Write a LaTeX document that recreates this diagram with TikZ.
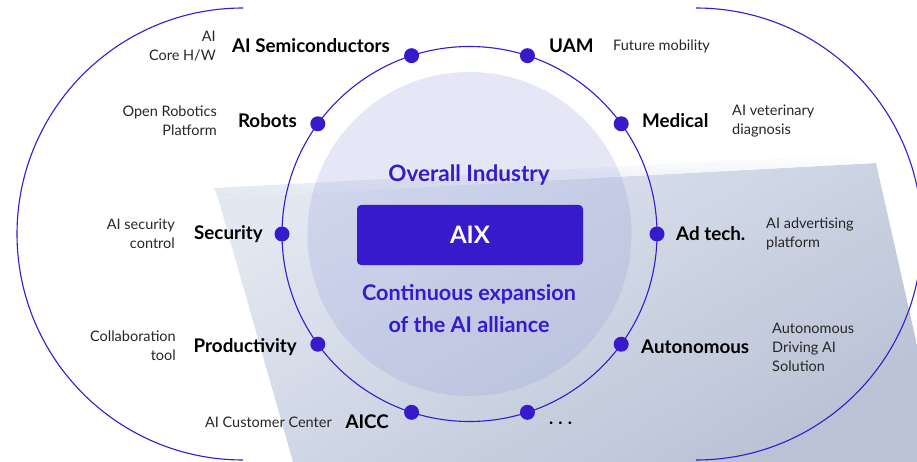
\documentclass[tikz,border=0pt]{standalone}
\usepackage{fontspec}
\setmainfont{Lato}
\definecolor{indigo}{RGB}{54,26,204}
\definecolor{bgA}{RGB}{226,231,241}
\definecolor{bgB}{RGB}{186,195,214}
\definecolor{innerc}{RGB}{150,160,222}
\begin{document}
\begin{tikzpicture}[x=1pt,y=-1pt,
  dot/.style={circle,fill=indigo,inner sep=0pt,minimum size=15pt},
  lbl/.style={font=\bfseries\fontsize{18.8}{22}\selectfont,text=black,inner sep=0pt},
  desc/.style={font=\fontsize{14.5}{19}\selectfont,text=black!85,inner sep=0pt,align=#1},
  ring/.style={draw=indigo,line width=1.1pt}]
\useasboundingbox (0,0) rectangle (917,462);
% background screen
\shade[top color=bgA,bottom color=bgB,shading angle=30]
  (218,198) -- (876,163) -- (917,345) -- (917,462) -- (293,462) -- cycle;
\shade[top color=white,bottom color=bgA,shading angle=-3]
  (214,188) -- (874,153) -- (876,163) -- (218,198) -- cycle;
% inner shaded circle
\coordinate (c) at (469.5,234);
\fill[innerc,opacity=0.25] (c) circle[radius=162pt];
% outer arcs
\begin{scope}
\clip (0,0) rectangle (243,462);
\draw[ring] (243,234) circle[radius=226pt];
\end{scope}
\begin{scope}
\clip (696,0) rectangle (917,462);
\draw[ring] (696,234) circle[radius=226pt];
\end{scope}
% middle ring
\draw[ring] (c) circle[radius=187.5pt];
% dots
\path (c) ++(0:187.5pt) node[dot] (adtech) {};
\path (c) ++(36:187.5pt) node[dot] (medical) {};
\path (c) ++(72:187.5pt) node[dot] (uam) {};
\path (c) ++(108:187.5pt) node[dot] (semi) {};
\path (c) ++(144:187.5pt) node[dot] (robots) {};
\path (c) ++(180:187.5pt) node[dot] (security) {};
\path (c) ++(216:187.5pt) node[dot] (prod) {};
\path (c) ++(252:187.5pt) node[dot] (aicc) {};
\path (c) ++(288:187.5pt) node[dot] (more) {};
\path (c) ++(324:187.5pt) node[dot] (auto) {};
% centre
\node[lbl,text=indigo,font=\bfseries\fontsize{22.5}{26}\selectfont] (overall) at (469,175) {Overall Industry};
\node[fill=indigo,rounded corners=4pt,minimum width=226pt,minimum height=60pt,inner sep=0pt,
  text=white,font=\bfseries\fontsize{24}{28}\selectfont] (aix) at (470,235) {AIX};
\node[text=indigo,font=\bfseries\fontsize{21.6}{32}\selectfont,align=center,inner sep=0pt] (cont) at (469,309)
  {Continuous expansion\\of the AI alliance};
% labels left
\node[lbl,anchor=east] (semiL) at (390,46) {AI Semiconductors};
\node[desc=right,anchor=east] (semiD) at (216,46) {AI\\Core H/W};
\node[lbl,anchor=east] (robotsL) at (297,121) {Robots};
\node[desc=right,anchor=east] (robotsD) at (217,121) {Open Robotics\\Platform};
\node[lbl,anchor=east] (securityL) at (263,234) {Security};
\node[desc=right,anchor=east] (securityD) at (175,234) {AI security\\control};
\node[lbl,anchor=east] (prodL) at (297,347) {Productivity};
\node[desc=right,anchor=east] (prodD) at (176,346) {Collaboration\\tool};
\node[lbl,anchor=east] (aiccL) at (389,422) {AICC};
\node[desc=right,anchor=east] (aiccD) at (332,422) {AI Customer Center};
% labels right
\node[lbl,anchor=west] (uamL) at (549,46) {UAM};
\node[desc=left,anchor=west] (uamD) at (613,46) {Future mobility};
\node[lbl,anchor=west] (medicalL) at (642,121) {Medical};
\node[desc=left,anchor=west] (medicalD) at (732,121) {AI veterinary\\diagnosis};
\node[lbl,anchor=west] (adtechL) at (676,234) {Ad tech.};
\node[desc=left,anchor=west] (adtechD) at (766,234) {AI advertising\\platform};
\node[lbl,anchor=west] (autoL) at (641,347) {Autonomous};
\node[desc=left,anchor=west] (autoD) at (772,347) {Autonomous\\Driving AI\\Solution};
\node[anchor=base west,inner sep=0pt,font=\bfseries\fontsize{18}{20}\selectfont] (moreL) at (549,424.5)
  {.\hspace{5pt}.\hspace{5pt}.};
\end{tikzpicture}
\end{document}
